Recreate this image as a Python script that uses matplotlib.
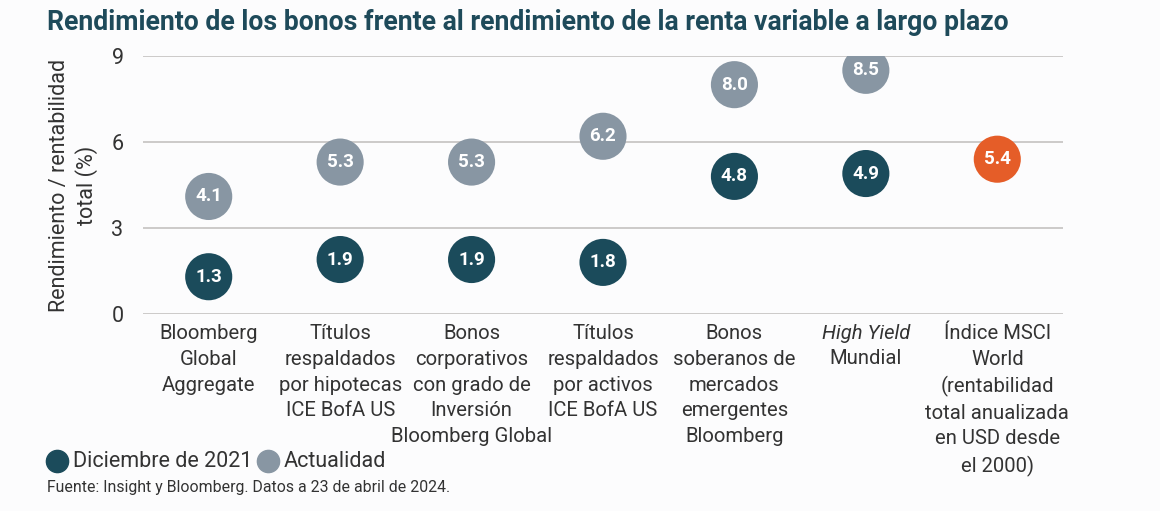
import matplotlib

matplotlib.use("Agg")
import matplotlib.pyplot as plt  # noqa: E402
from matplotlib.transforms import blended_transform_factory  # noqa: E402

plt.rcParams["font.family"] = ["Roboto", "DejaVu Sans"]

categories = [
    "Bloomberg\nGlobal\nAggregate",
    "Títulos\nrespaldados\npor hipotecas\nICE BofA US",
    "Bonos\ncorporativos\ncon grado de\nInversión\nBloomberg Global",
    "Títulos\nrespaldados\npor activos\nICE BofA US",
    "Bonos\nsoberanos de\nmercados\nemergentes\nBloomberg",
    "Mundial",
    "Índice MSCI\nWorld\n(rentabilidad\ntotal anualizada\nen USD desde\nel 2000)",
]
dec_2021 = [1.3, 1.9, 1.9, 1.8, 4.8, 4.9]
actual = [4.1, 5.3, 5.3, 6.2, 8.0, 8.5]
msci = [5.4]
yticks = [0, 3, 6, 9]

DARK = "#1b4b5b"
GREY = "#8896a3"
ORANGE = "#e55d28"
TEXT = "#333333"
BG = "#fcfcfd"

fig = plt.figure(figsize=(11.6, 5.11), dpi=100, facecolor=BG)
ax = fig.add_axes([143 / 1160, 1 - 314 / 511, 920 / 1160, 258 / 511])
ax.set_facecolor(BG)

ax.set_xlim(-0.5, len(categories) - 0.5)
ax.set_ylim(0, 9)
ax.set_yticks(yticks)
ax.set_yticklabels([str(t) for t in yticks], fontsize=15.5, color=TEXT)
ax.tick_params(axis="y", length=0, pad=14)
ax.set_xticks([])
for s in ax.spines.values():
    s.set_visible(False)
for t in yticks:
    ax.axhline(t, color="#c9c6c5", lw=1.3, zorder=0)

ms = 1150
xs = list(range(len(dec_2021)))
ax.scatter(xs, dec_2021, s=ms, color=DARK, edgecolors="none", zorder=3)
ax.scatter(xs, actual, s=ms, color=GREY, edgecolors="none", zorder=3)
xm = [len(categories) - 1]
ax.scatter(xm, msci, s=ms, color=ORANGE, edgecolors="none", zorder=3)
for x, v in list(zip(xs, dec_2021)) + list(zip(xs, actual)) + list(zip(xm, msci)):
    ax.text(x, v, f"{v:.1f}", ha="center", va="center", color="white",
            fontsize=13.5, fontweight="semibold", zorder=4)

# category labels below the axis; "High Yield" is italic, so it gets its own line
trans = blended_transform_factory(ax.transData, ax.transAxes)
hy = categories.index("Mundial")
for i, lab in enumerate(categories):
    dy = -18 if i == hy else 0
    ax.annotate(lab, xy=(i, -0.04), xycoords=trans, xytext=(0, dy),
                textcoords="offset points", ha="center", va="top",
                multialignment="center", fontsize=14.6, color=TEXT,
                linespacing=1.44)
ax.annotate("High Yield", xy=(hy, -0.04), xycoords=trans, ha="center",
            va="top", fontsize=14.6, color=TEXT, style="italic")

ax.set_ylabel("Rendimiento / rentabilidad\ntotal (%)", fontsize=15.5,
              color=TEXT, labelpad=10, linespacing=1.25)

fig.text(47 / 1160, 1 - 22 / 511, "Rendimiento de los bonos frente al "
         "rendimiento de la renta variable a largo plazo",
         fontsize=19.2, fontweight="bold", color="#1e4a5a", va="center",
         ha="left")

# legend
leg_y = 1 - 461 / 511
fig.add_artist(plt.Line2D([57 / 1160], [leg_y], marker="o", ms=16,
                          color=DARK, transform=fig.transFigure, lw=0))
fig.text(73 / 1160, leg_y, "Diciembre de 2021", fontsize=15.5, color=TEXT,
         va="center", ha="left")
fig.add_artist(plt.Line2D([268 / 1160], [leg_y], marker="o", ms=16,
                          color=GREY, transform=fig.transFigure, lw=0))
fig.text(284 / 1160, leg_y, "Actualidad", fontsize=15.5, color=TEXT,
         va="center", ha="left")
fig.text(47 / 1160, 1 - 487 / 511,
         "Fuente: Insight y Bloomberg. Datos a 23 de abril de 2024.",
         fontsize=11.4, color=TEXT, va="center", ha="left")

fig.savefig("out.png", dpi=100, facecolor=BG)
